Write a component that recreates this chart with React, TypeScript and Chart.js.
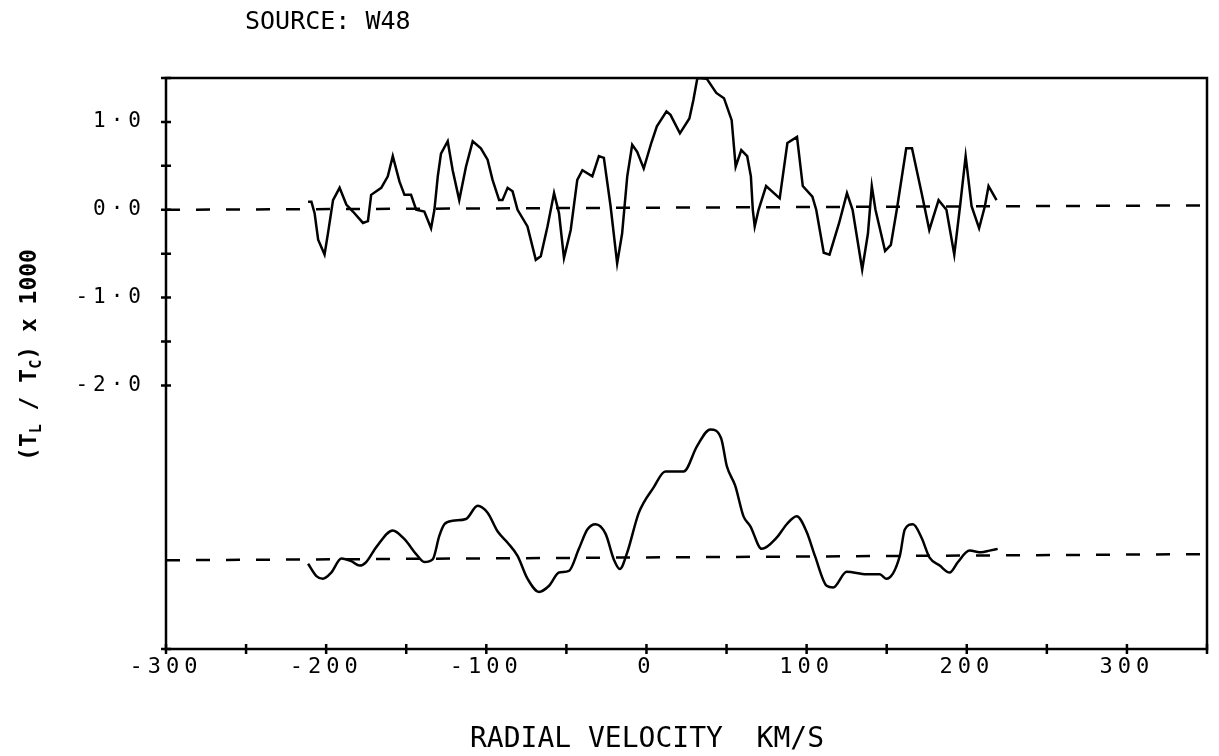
import React, { useEffect, useRef } from 'react';
import { Chart, registerables } from 'chart.js';

Chart.register(...registerables);

// ---- data ----
const upperVel = [
  -211.3, -209.2, -207.2, -205, -201, -198.8, -195.7, -191.6, -187.4, -183.3,
  -177, -173.9, -171.9, -165.6, -161.5, -158.4, -154.2, -151.1, -147, -143.8,
  -138.7, -134.5, -132.4, -130.3, -128.3, -124.1, -121, -116.9, -112.7, -108.5,
  -103.4, -99.2, -96.1, -92, -89.9, -86.7, -83.6, -80.5, -74.3, -69.1,
  -66, -61.8, -57.7, -54.6, -51.5, -47.3, -43.2, -40, -33.8, -29.7,
  -26.6, -22.4, -18.3, -15.2, -12, -8.9, -5.8, -1.7, 3, 6.5,
  12.5, 15, 20.9, 26.8, 29.3, 31.8, 37.7, 43.6, 48.4, 53.2,
  55.7, 59.2, 62.9, 65.2, 66.4, 67.6, 70, 74.7, 83.2, 88,
  94, 97.6, 103.6, 106, 110.7, 114.3, 120.3, 125.2, 128.7, 134.7,
  138.3, 140.7, 143, 149, 152.6, 156.3, 162.2, 165.8, 171.8, 176.6,
  182.4, 187.3, 192.2, 195.8, 199.3, 203, 207.7, 211.3, 213.6, 218.6,
];
const upperVal = [
  0.09, 0.09, -0.04, -0.34, -0.51, -0.26, 0.11, 0.25, 0.06, -0.02,
  -0.15, -0.13, 0.17, 0.25, 0.38, 0.61, 0.32, 0.17, 0.17, 0.0,
  -0.02, -0.21, 0.0, 0.38, 0.64, 0.78, 0.45, 0.11, 0.49, 0.78,
  0.7, 0.57, 0.34, 0.11, 0.11, 0.25, 0.21, 0.0, -0.19, -0.57,
  -0.53, -0.19, 0.19, -0.04, -0.55, -0.23, 0.34, 0.45, 0.38, 0.61,
  0.59, 0.04, -0.61, -0.27, 0.38, 0.74, 0.66, 0.47, 0.76, 0.95,
  1.12, 1.08, 0.87, 1.04, 1.25, 1.5, 1.49, 1.33, 1.27, 1.02,
  0.49, 0.68, 0.61, 0.38, 0.0, -0.19, 0.0, 0.27, 0.13, 0.76,
  0.83, 0.27, 0.15, 0.0, -0.49, -0.51, -0.15, 0.19, 0.0, -0.68,
  -0.27, 0.27, 0.0, -0.47, -0.4, 0.0, 0.7, 0.7, 0.19, -0.23,
  0.11, 0.0, -0.51, 0.04, 0.61, 0.04, -0.21, 0.04, 0.27, 0.11,
];
const lowerVel = [
  -211.3, -206.1, -202, -196.8, -190.5, -184.3, -179.1, -175, -168.7, -158.4,
  -151.1, -143.8, -138.7, -133.5, -129.3, -126.2, -121, -112.7, -105.4, -99.2,
  -93, -86.7, -80.5, -74.3, -67.1, -60.8, -54.6, -48.4, -42.2, -36.9,
  -31.8, -25.5, -20.4, -16.6, -12, -4.8, 4.5, 11.8, 23.2, 31.6,
  39.9, 46.6, 50.2, 55.4, 60.6, 64.8, 72, 81.4, 87.6, 93.8,
  100.1, 105.2, 112.5, 116.6, 125, 137.4, 145.7, 149.9, 158.2, 161.3,
  166.4, 171.7, 176.8, 183.1, 189.3, 194.5, 201.7, 209, 214.2, 219.3,
];
const lowerVal = [
  -4.03, -4.17, -4.2, -4.13, -3.97, -4.0, -4.05, -4.01, -3.84, -3.65,
  -3.75, -3.92, -4.01, -3.98, -3.71, -3.58, -3.54, -3.52, -3.37, -3.45,
  -3.66, -3.79, -3.94, -4.2, -4.35, -4.28, -4.13, -4.11, -3.86, -3.64,
  -3.58, -3.69, -3.98, -4.09, -3.9, -3.45, -3.16, -2.98, -2.98, -2.69,
  -2.5, -2.6, -2.92, -3.14, -3.49, -3.6, -3.86, -3.73, -3.58, -3.49,
  -3.67, -3.94, -4.28, -4.3, -4.12, -4.15, -4.15, -4.2, -3.94, -3.64,
  -3.58, -3.73, -3.96, -4.05, -4.13, -4.01, -3.88, -3.9, -3.88, -3.86,
];
const baseVel = [-300, 350];
const upperBase = [0, 0.05];
const lowerBase = [-3.99, -3.92];

const xTickValues = [-300, -250, -200, -150, -100, -50, 0, 50, 100, 150, 200, 250, 300, 350];
const xTickLabels: Record<string, string> = {
  '-300': '-300', '-200': '-200', '-100': '-100', '0': '0', '100': '100', '200': '200', '300': '300',
};
const yTickValues = [1.5, 1, 0.5, 0, -0.5, -1, -1.5, -2, -5];
const yTickLabels: Record<string, string> = { '1': '1·0', '0': '0·0', '-1': '-1·0', '-2': '-2·0' };

const titleText = 'SOURCE: W48';
const xTitleText = 'RADIAL VELOCITY  KM/S';
const yTitleParts = [
  { t: '(T', sub: false },
  { t: 'L', sub: true },
  { t: ' / T', sub: false },
  { t: 'C', sub: true },
  { t: ') x 1000', sub: false },
];

const W = 1219;
const H = 756;

const toPts = (xs: number[], ys: number[]) => xs.map((x, i) => ({ x, y: ys[i] }));

const decorPlugin = {
  id: 'decor',
  beforeDraw(chart: any) {
    (chart.ctx as any).letterSpacing = '5px';
  },
  afterDraw(chart: any) {
    const ctx = chart.ctx as CanvasRenderingContext2D;
    const { left, right, top, bottom } = chart.chartArea;
    const xs = chart.scales.x;
    const ys = chart.scales.y;
    ctx.save();
    (ctx as any).letterSpacing = '0px';
    ctx.strokeStyle = '#000';
    ctx.lineWidth = 2.5;
    ctx.setLineDash([]);
    ctx.strokeRect(left, top, right - left, bottom - top);
    ctx.beginPath();
    xs.ticks.forEach((t: any) => {
      const px = xs.getPixelForValue(t.value);
      ctx.moveTo(px, bottom - 5);
      ctx.lineTo(px, bottom + 5);
    });
    ys.ticks.forEach((t: any) => {
      const py = ys.getPixelForValue(t.value);
      ctx.moveTo(left - 5, py);
      ctx.lineTo(left + 5, py);
    });
    ctx.stroke();

    ctx.fillStyle = '#000';
    ctx.font = '25px "DejaVu Sans Mono"';
    ctx.textBaseline = 'middle';
    ctx.textAlign = 'left';
    ctx.fillText(titleText, 245, 22);

    ctx.font = '28px "DejaVu Sans Mono"';
    ctx.textAlign = 'center';
    ctx.fillText(xTitleText, 647, 740);

    // rotated y title with subscripts
    const mainFont = 'bold 23px "DejaVu Sans Mono"';
    const subFont = 'bold 15px "DejaVu Sans Mono"';
    let total = 0;
    yTitleParts.forEach((p) => {
      ctx.font = p.sub ? subFont : mainFont;
      total += ctx.measureText(p.t).width;
    });
    ctx.translate(30, 355);
    ctx.rotate(-Math.PI / 2);
    ctx.textAlign = 'left';
    ctx.textBaseline = 'middle';
    let cx = -total / 2;
    yTitleParts.forEach((p) => {
      ctx.font = p.sub ? subFont : mainFont;
      ctx.fillText(p.t, cx, p.sub ? 7 : 0);
      cx += ctx.measureText(p.t).width;
    });
    ctx.restore();
  },
};

export default function App() {
  const ref = useRef<HTMLCanvasElement | null>(null);
  useEffect(() => {
    if (!ref.current) return;
    const lineBase = {
      borderColor: '#000',
      pointRadius: 0,
      fill: false,
    };
    const chart = new Chart(ref.current, {
      type: 'line',
      data: {
        datasets: [
          { ...lineBase, data: toPts(baseVel, upperBase), borderWidth: 2.5, borderDash: [14, 16] },
          { ...lineBase, data: toPts(baseVel, lowerBase), borderWidth: 2.5, borderDash: [14, 16] },
          { ...lineBase, data: toPts(upperVel, upperVal), borderWidth: 2.5, tension: 0 },
          { ...lineBase, data: toPts(lowerVel, lowerVal), borderWidth: 2.5, cubicInterpolationMode: 'monotone' },
        ],
      } as any,
      options: {
        responsive: false,
        animation: false,
        events: [],
        layout: { padding: { left: 50, top: 78, right: 12, bottom: 67 } },
        plugins: { legend: { display: false }, tooltip: { enabled: false }, title: { display: false } },
        scales: {
          x: {
            type: 'linear',
            min: -300,
            max: 350,
            afterBuildTicks: (s: any) => {
              s.ticks = xTickValues.map((v) => ({ value: v }));
            },
            afterFit: (s: any) => {
              s.height = 40;
            },
            grid: { display: false, drawTicks: false },
            border: { display: false },
            ticks: {
              color: '#000',
              font: { family: 'DejaVu Sans Mono', size: 22 },
              padding: 5,
              maxRotation: 0,
              autoSkip: false,
              callback: (v: any) => xTickLabels[String(v)] ?? '',
            },
          },
          y: {
            type: 'linear',
            min: -5,
            max: 1.5,
            afterBuildTicks: (s: any) => {
              s.ticks = yTickValues.map((v) => ({ value: v }));
            },
            afterFit: (s: any) => {
              s.width = 116;
            },
            grid: { display: false, drawTicks: false },
            border: { display: false },
            ticks: {
              color: '#000',
              font: { family: 'DejaVu Sans Mono', size: 21 },
              padding: 20,
              autoSkip: false,
              callback: (v: any) => yTickLabels[String(v)] ?? '',
            },
          },
        },
      } as any,
      plugins: [decorPlugin],
    });
    return () => chart.destroy();
  }, []);
  return (
    <div style={{ position: 'fixed', left: 0, top: 0, width: W, height: H, background: '#fff' }}>
      <canvas ref={ref} width={W} height={H} style={{ display: 'block', width: W, height: H }} />
    </div>
  );
}
